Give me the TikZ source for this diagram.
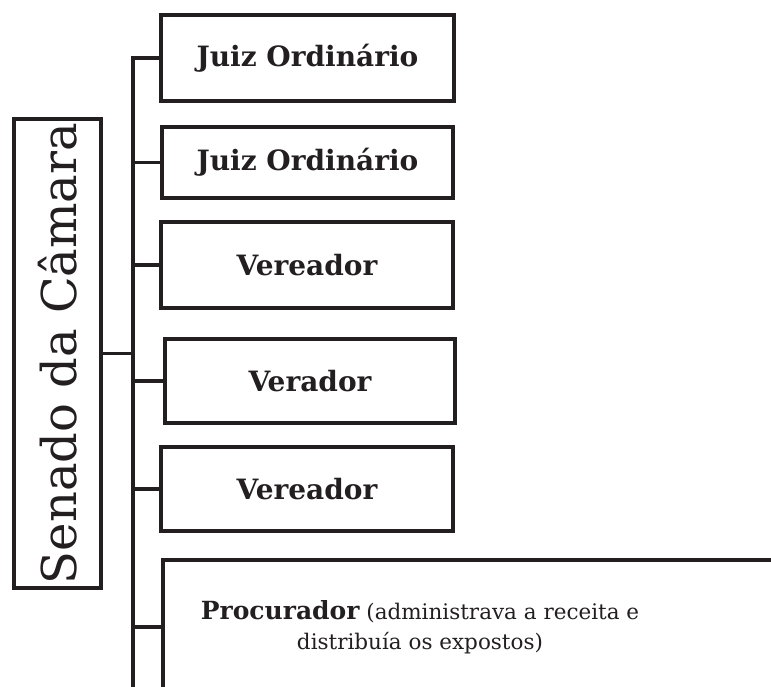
\documentclass[tikz,border=0pt]{standalone}
\usepackage{fontspec}
\setmainfont{DejaVu Serif}
\definecolor{inkc}{RGB}{35,31,32}
\begin{document}
\begin{tikzpicture}[x=1pt,y=-1pt,
  ink/.style={draw=inkc, line width=3.6pt, rectangle, inner sep=0pt},
  office/.style={ink, font=\fontsize{28}{30}\selectfont\bfseries, text=inkc},
  link/.style={draw=inkc, line width=3.6pt}]
\useasboundingbox (0,0) rectangle (771,687);
\clip (0,0) rectangle (771,687);
\node[ink, minimum width=87pt, minimum height=469pt, text=inkc] (senado) at (57.5,353.5)
  {\rotatebox{90}{\fontsize{48}{50}\selectfont Senado da Câmara}};
\node[office, minimum width=293pt, minimum height=86pt] (j1) at (307.5,58) {Juiz Ordinário};
\node[office, minimum width=291pt, minimum height=71pt] (j2) at (307.5,162.5) {Juiz Ordinário};
\node[office, minimum width=292pt, minimum height=86pt] (v1) at (307,265) {Vereador};
\node[office, minimum width=290pt, minimum height=84pt] (v2) at (310,381) {Verador};
\node[office, minimum width=292pt, minimum height=84pt] (v3) at (307,489) {Vereador};
\node[ink, anchor=north west, minimum width=700pt, minimum height=300pt] (proc) at (161,558) {};
\node[align=center, text=inkc, font=\fontsize{21.5}{30}\selectfont] (proctext) at (420,627)
  {{\fontsize{25}{30}\selectfont\bfseries Procurador} (administrava a receita e\\distribuía os expostos)};
\coordinate (bus) at (133,720);
\draw[link] (j1.west) -- (bus |- j1.west) -- (bus);
\draw[link] (senado.east) -- (bus |- senado.east);
\foreach \b in {j2,v1,v2,v3} \draw[link] (bus |- \b.west) -- (\b.west);
\draw[link] (bus |- proctext) -- (proc.west |- proctext);
\end{tikzpicture}
\end{document}
